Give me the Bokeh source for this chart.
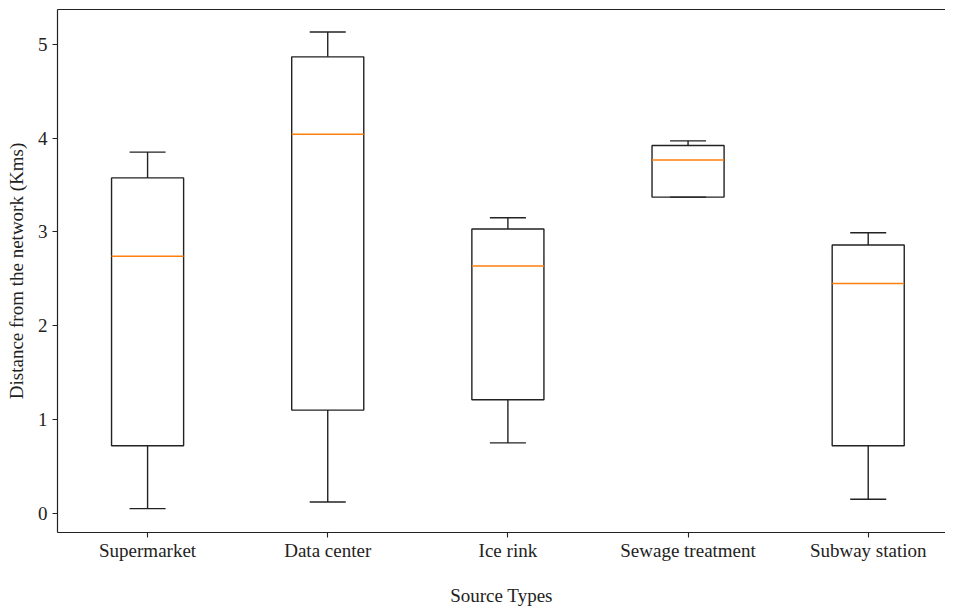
from bokeh.plotting import figure
from bokeh.models import Range1d, FixedTicker, LinearAxis, ColumnDataSource
from bokeh.embed import file_html
from bokeh.resources import INLINE

categories = ["Supermarket", "Data center", "Ice rink", "Sewage treatment", "Subway station"]
whisker_low = [0.05, 0.12, 0.75, 3.37, 0.15]
q1 = [0.72, 1.10, 1.21, 3.37, 0.72]
median = [2.74, 4.04, 2.635, 3.765, 2.45]
q3 = [3.575, 4.865, 3.03, 3.92, 2.86]
whisker_high = [3.85, 5.13, 3.15, 3.97, 2.99]
y_ticks = [0, 1, 2, 3, 4, 5]

FONT = "Liberation Serif"
FS = "19px"
BOX_W = 0.4
CAP_W = 0.2

pos = list(range(1, len(categories) + 1))
src = ColumnDataSource(dict(
    x=pos,
    left=[p - BOX_W / 2 for p in pos],
    right=[p + BOX_W / 2 for p in pos],
    cl=[p - CAP_W / 2 for p in pos],
    cr=[p + CAP_W / 2 for p in pos],
    lo=whisker_low, q1=q1, med=median, q3=q3, hi=whisker_high,
))

p = figure(width=945, height=608, output_backend="svg", toolbar_location=None,
           x_range=Range1d(0.5, 5.429), y_range=Range1d(-0.205, 5.37),
           min_border_left=57, min_border_right=0, min_border_top=9, min_border_bottom=74,
           x_axis_label="Source Types", y_axis_label="Distance from the network (Kms)")
p.outline_line_color = None
p.xgrid.visible = False
p.ygrid.visible = False
p.background_fill_color = "white"
p.border_fill_color = "white"

LC = "#222222"
# boxes
p.quad(left="left", right="right", bottom="q1", top="q3", source=src,
       fill_color=None, line_color=LC, line_width=1.4)
# whiskers
p.segment(x0="x", x1="x", y0="lo", y1="q1", source=src, line_color=LC, line_width=1.4)
p.segment(x0="x", x1="x", y0="q3", y1="hi", source=src, line_color=LC, line_width=1.4)
# caps
p.segment(x0="cl", x1="cr", y0="lo", y1="lo", source=src, line_color=LC, line_width=1.4)
p.segment(x0="cl", x1="cr", y0="hi", y1="hi", source=src, line_color=LC, line_width=1.4)
# medians
p.segment(x0="left", x1="right", y0="med", y1="med", source=src, line_color="#ff7f0e", line_width=1.4)

for ax in (p.xaxis[0], p.yaxis[0]):
    ax.axis_line_color = LC
    ax.axis_line_width = 1.2
    ax.major_tick_line_color = LC
    ax.major_tick_line_width = 1.1
    ax.major_tick_out = 5
    ax.major_tick_in = 0
    ax.minor_tick_line_color = None
    ax.major_label_text_font = FONT
    ax.major_label_text_font_size = FS
    ax.major_label_text_color = "#222222"
    ax.axis_label_text_font = FONT
    ax.axis_label_text_font_size = FS
    ax.axis_label_text_font_style = "normal"
    ax.axis_label_text_color = "#222222"
    ax.major_label_standoff = 5

p.xaxis.ticker = FixedTicker(ticks=pos)
p.xaxis.major_label_overrides = {i: c for i, c in zip(pos, categories)}
p.xaxis.major_label_standoff = 2
p.xaxis.axis_label_standoff = 21
p.yaxis.ticker = FixedTicker(ticks=y_ticks)
p.yaxis.axis_label_standoff = 8

top = LinearAxis(ticker=FixedTicker(ticks=[]), axis_line_color=LC, axis_line_width=1.2,
                 major_tick_line_color=None, minor_tick_line_color=None,
                 major_label_text_font_size="0px", major_tick_out=0, major_label_standoff=0)
p.add_layout(top, "above")

open("out.html", "w").write(file_html(p, INLINE))
